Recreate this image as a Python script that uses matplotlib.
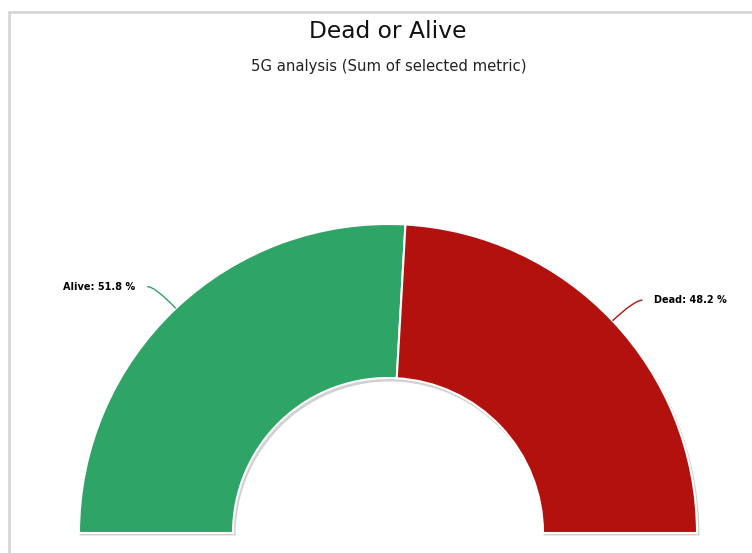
import numpy as np
import matplotlib
matplotlib.use("Agg")
import matplotlib.pyplot as plt
from matplotlib.patches import Rectangle, PathPatch
from matplotlib.path import Path

TITLE = "Dead or Alive"
SUBTITLE = "5G analysis (Sum of selected metric)"
NAMES = ["Alive", "Dead"]
SHARES = [51.8, 48.2]
COLORS = ["#2ea466", "#b3110e"]

W, H = 752, 553
CX, CY = 388, 20          # centre of the half donut (pixel units, y up)
R_OUT, R_IN = 309, 155

fig = plt.figure(figsize=(W / 100, H / 100), dpi=100)
ax = fig.add_axes([0, 0, 1, 1])

# outer frame of the chart area
ax.add_patch(Rectangle((9, -10), W + 10, H - 12 + 10, fill=False,
                       edgecolor="#d6d6d6", linewidth=2))

# values padded with the other half of the circle, which stays hidden
vals = SHARES + [sum(SHARES)]

# soft drop shadow
sh, _ = ax.pie(vals, colors=["#8c8c8c"] * 3, startangle=180, counterclock=False,
               radius=R_OUT + 1, center=(CX + 1.5, CY - 2.5),
               wedgeprops=dict(width=R_OUT - R_IN + 2, linewidth=0, alpha=0.4))
sh[-1].set_visible(False)

wedges, _ = ax.pie(vals, colors=COLORS + ["none"], startangle=180,
                   counterclock=False, radius=R_OUT, center=(CX, CY),
                   wedgeprops=dict(width=R_OUT - R_IN, edgecolor="white",
                                   linewidth=1.5))
wedges[-1].set_visible(False)

# data labels with curved connectors
for w, name, val, col in zip(wedges, NAMES, SHARES, COLORS):
    mid = np.deg2rad((w.theta1 + w.theta2) / 2)
    px, py = CX + R_OUT * np.cos(mid), CY + R_OUT * np.sin(mid)
    ex, ey = CX + (R_OUT + 30) * np.cos(mid), CY + (R_OUT + 30) * np.sin(mid)
    side = 1 if np.cos(mid) >= 0 else -1
    sx = ex + side * 8
    path = Path([(sx, ey), (ex, ey), (px, py)],
                [Path.MOVETO, Path.CURVE3, Path.CURVE3])
    ax.add_patch(PathPatch(path, fill=False, edgecolor=col, linewidth=1))
    ax.text(ex + side * 20, ey, f"{name}: {val} %", fontsize=7,
            fontweight="bold", color="black",
            ha="left" if side > 0 else "right", va="center")

ax.text(W / 2 + 12, H - 31, TITLE, fontsize=16.8, ha="center", va="center",
        color="#111111")
ax.text(W / 2 + 13, H - 67, SUBTITLE, fontsize=10.7, ha="center", va="center",
        color="#222222")

ax.set_xlim(0, W)
ax.set_ylim(0, H)
ax.set_aspect("auto")
ax.axis("off")
fig.savefig("out.png", dpi=100, facecolor="white")
